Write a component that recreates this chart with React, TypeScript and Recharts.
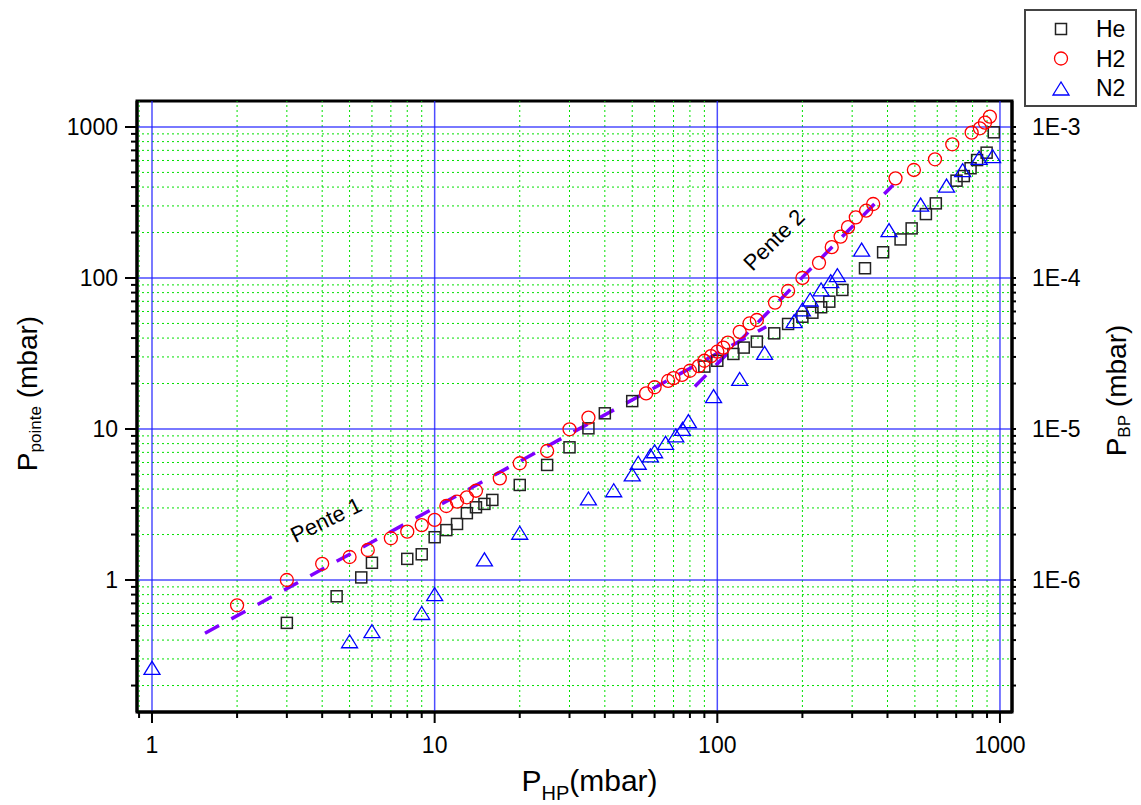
import React from "react";
import {
  ScatterChart,
  Scatter,
  XAxis,
  YAxis,
  ReferenceLine,
  ReferenceArea,
  ReferenceDot,
  Legend,
} from "recharts";

const FONT = "'Liberation Sans', Arial, sans-serif";

const seriesNames = ["He", "H2", "N2"];

// He (carrés noirs)
const heX = [3, 4.5, 5.5, 6, 8, 9, 10, 11, 12, 13, 14, 15, 16, 20, 25, 30, 35, 40, 50, 90, 100, 114, 124, 138, 159, 178, 200, 217, 233, 249, 277, 333, 386, 445, 487, 547, 593, 702, 745, 787, 830, 897, 951];
const heY = [0.52, 0.78, 1.04, 1.3, 1.38, 1.48, 1.92, 2.14, 2.35, 2.77, 3.03, 3.19, 3.39, 4.26, 5.78, 7.56, 10.1, 12.7, 15.3, 25.9, 28.3, 31.4, 34.6, 37.9, 43, 49.6, 55.4, 58.9, 64, 69.7, 83.3, 116, 148, 180, 213, 265, 312, 441, 473, 533, 604, 676, 922];

// H2 (cercles rouges)
const h2X = [2, 3, 4, 5, 5.8, 7, 8, 9, 10, 11, 12, 13, 14, 17, 20, 25, 30, 35, 56, 60, 67, 70, 75, 80, 86, 90, 95, 100, 105, 109, 120, 130, 138, 160, 178, 200, 229, 254, 273, 290, 309, 336, 356, 427, 496, 589, 678, 794, 849, 885, 921];
const h2Y = [0.68, 1.0, 1.28, 1.42, 1.58, 1.89, 2.09, 2.31, 2.5, 3.09, 3.3, 3.53, 3.9, 4.71, 5.93, 7.15, 9.95, 11.9, 17.2, 18.9, 20.8, 21.7, 22.8, 24.3, 26.1, 28.3, 30.4, 32.5, 34.6, 37.3, 44, 50, 52.7, 68.7, 82, 100, 126, 160, 188, 217, 252, 279, 309, 457, 519, 611, 768, 917, 980, 1068, 1170];

// N2 (triangles bleus)
const n2X = [1, 5, 6, 9, 10, 15, 20, 35, 43, 50, 52.5, 58, 60, 65.6, 71.3, 75.3, 79, 97, 120, 147, 187, 200, 213, 233, 252, 266, 324, 405, 524, 647, 738, 844, 942];
const n2Y = [0.26, 0.39, 0.455, 0.6, 0.8, 1.36, 2.04, 3.44, 3.9, 4.96, 5.93, 6.63, 7.07, 8.04, 8.99, 9.95, 11.2, 16.4, 21.3, 31.7, 51.4, 61.4, 71.5, 83.3, 94.6, 103.6, 153, 206, 304, 406, 514, 620, 636];

// droites de pente
const pente1X = [1.54, 149];
const pente1Y = [0.444, 47.6];
const pente2X = [83.3, 419];
const pente2Y = [19.1, 413];
const penteLabels = ["Pente 1", "Pente 2"];
const penteLabelX = [4.13, 158.6];
const penteLabelY = [2.5, 178.6];

const xMajor = [1, 10, 100, 1000];
const xMinor = [0.9, 2, 3, 4, 5, 6, 7, 8, 9, 20, 30, 40, 50, 60, 70, 80, 90, 200, 300, 400, 500, 600, 700, 800, 900];
const yMajor = [1, 10, 100, 1000];
const yMinor = [0.2, 0.3, 0.4, 0.5, 0.6, 0.7, 0.8, 0.9, 2, 3, 4, 5, 6, 7, 8, 9, 20, 30, 40, 50, 60, 70, 80, 90, 200, 300, 400, 500, 600, 700, 800, 900];
const rightLabels = ["1E-6", "1E-5", "1E-4", "1E-3"];

const xDomain: [number, number] = [0.885, 1103];
const yDomain: [number, number] = [0.1336, 1486];

const xTicks = [...xMinor, ...xMajor].sort((a, b) => a - b);
const yTicks = [...yMinor, ...yMajor].sort((a, b) => a - b);

const Square = (p: any) => (
  <rect x={p.cx - 5.5} y={p.cy - 5.5} width={11} height={11} fill="none" stroke="#222" strokeWidth={1.5} />
);
const Circle = (p: any) => (
  <circle cx={p.cx} cy={p.cy} r={6.5} fill="none" stroke="#ff0000" strokeWidth={1.3} />
);
const Triangle = (p: any) => (
  <polygon
    points={`${p.cx},${p.cy - 7} ${p.cx - 8},${p.cy + 6} ${p.cx + 8},${p.cy + 6}`}
    fill="none"
    stroke="#0000ff"
    strokeWidth={1.3}
  />
);

const BottomTick = (props: any) => {
  const { x, y, payload } = props;
  const major = xMajor.includes(payload.value);
  return (
    <g>
      <line x1={x} x2={x} y1={y} y2={y + (major ? 11 : 6)} stroke="#000" strokeWidth={2} />
      {major && (
        <text x={x} y={y + 41} textAnchor="middle" fontSize={23} fontFamily={FONT} fill="#000">
          {payload.value}
        </text>
      )}
    </g>
  );
};

const LeftTick = (props: any) => {
  const { x, y, payload } = props;
  const major = yMajor.includes(payload.value);
  return (
    <g>
      <line x1={x} x2={x - (major ? 12 : 6)} y1={y} y2={y} stroke="#000" strokeWidth={2} />
      {major && (
        <text x={x - 19} y={y + 8} textAnchor="end" fontSize={23} fontFamily={FONT} fill="#000">
          {payload.value}
        </text>
      )}
    </g>
  );
};

const RightTick = (props: any) => {
  const { x, y, payload } = props;
  const idx = yMajor.indexOf(payload.value);
  return (
    <g>
      <line x1={x} x2={x + 4} y1={y} y2={y} stroke="#000" strokeWidth={2} />
      {idx >= 0 && (
        <text x={x + 20} y={y + 8} textAnchor="start" fontSize={23} fontFamily={FONT} fill="#000">
          {rightLabels[idx]}
        </text>
      )}
    </g>
  );
};

const BottomTitle = (props: any) => {
  const vb = props.viewBox;
  return (
    <text x={vb.x + vb.width / 2 + 15} y={vb.y + 79} textAnchor="middle" fontFamily={FONT} fontSize={30} fill="#000">
      <tspan>P</tspan>
      <tspan fontSize={20} dy={9}>HP</tspan>
      <tspan dy={-9}>(mbar)</tspan>
    </text>
  );
};

const LeftTitle = (props: any) => {
  const vb = props.viewBox;
  const cx = vb.x + 27;
  const cy = vb.y + vb.height / 2 - 13;
  return (
    <text
      x={cx}
      y={cy}
      transform={`rotate(-90 ${cx} ${cy})`}
      textAnchor="middle"
      dominantBaseline="central"
      fontFamily={FONT}
      fontSize={28}
      fill="#000"
    >
      <tspan>P</tspan>
      <tspan fontSize={17} dy={8}>pointe</tspan>
      <tspan dy={-8}> (mbar)</tspan>
    </text>
  );
};

const RightTitle = (props: any) => {
  const vb = props.viewBox;
  const cx = vb.x + 104;
  const cy = vb.y + vb.height / 2 - 16;
  return (
    <text
      x={cx}
      y={cy}
      transform={`rotate(-90 ${cx} ${cy})`}
      textAnchor="middle"
      dominantBaseline="central"
      fontFamily={FONT}
      fontSize={28}
      fill="#000"
    >
      <tspan>P</tspan>
      <tspan fontSize={17} dy={8}>BP</tspan>
      <tspan dy={-8}> (mbar)</tspan>
    </text>
  );
};

const LegendBox = (props: any) => {
  const payload = [...(props.payload || [])].sort(
    (a: any, b: any) => seriesNames.indexOf(a.value) - seriesNames.indexOf(b.value)
  );
  return (
    <svg width={113} height={98} style={{ display: "block" }}>
      <rect x={1} y={1} width={111} height={96} fill="#fff" stroke="#444" strokeWidth={2} />
      {payload.map((entry: any, i: number) => {
        const cy = 20 + i * 29.5;
        const cx = 37;
        const marker =
          entry.value === "He" ? (
            <Square cx={cx} cy={cy} />
          ) : entry.value === "H2" ? (
            <Circle cx={cx} cy={cy} />
          ) : (
            <Triangle cx={cx} cy={cy + 1} />
          );
        return (
          <g key={entry.value}>
            {marker}
            <text x={72} y={cy + 8} fontFamily={FONT} fontSize={23} fill="#000">
              {entry.value}
            </text>
          </g>
        );
      })}
    </svg>
  );
};

const PenteText = (text: string, angle: number) => (p: any) => (
  <text
    x={p.cx}
    y={p.cy}
    transform={`rotate(${angle} ${p.cx} ${p.cy})`}
    textAnchor="middle"
    dominantBaseline="central"
    fontFamily={FONT}
    fontSize={22}
    fill="#000"
  >
    {text}
  </text>
);

export default function App() {
  const he = heX.map((x, i) => ({ x, y: heY[i] }));
  const h2 = h2X.map((x, i) => ({ x, y: h2Y[i] }));
  const n2 = n2X.map((x, i) => ({ x, y: n2Y[i] }));

  const dash = { stroke: "#7f00ff", strokeWidth: 3.5, strokeDasharray: "16 14" };

  return (
    <div style={{ position: "absolute", left: 0, top: 0, background: "#fff" }}>
      <ScatterChart width={1141} height={805} margin={{ top: 101, right: 0, bottom: 0, left: 0 }}>
        <XAxis
          type="number"
          dataKey="x"
          scale="log"
          domain={xDomain}
          allowDataOverflow
          ticks={xTicks}
          interval={0}
          height={93}
          tickSize={0}
          tickMargin={0}
          tickLine={false}
          axisLine={{ stroke: "#000", strokeWidth: 3 }}
          tick={<BottomTick />}
          label={<BottomTitle />}
        />
        <YAxis
          yAxisId="left"
          type="number"
          dataKey="y"
          scale="log"
          domain={yDomain}
          allowDataOverflow
          ticks={yTicks}
          interval={0}
          width={137}
          tickSize={0}
          tickMargin={0}
          tickLine={false}
          axisLine={{ stroke: "#000", strokeWidth: 3 }}
          tick={<LeftTick />}
          label={<LeftTitle />}
        />
        <YAxis
          yAxisId="right"
          orientation="right"
          type="number"
          scale="log"
          domain={yDomain}
          allowDataOverflow
          ticks={yTicks}
          interval={0}
          width={129}
          tickSize={0}
          tickMargin={0}
          tickLine={false}
          axisLine={{ stroke: "#000", strokeWidth: 3 }}
          tick={<RightTick />}
          label={<RightTitle />}
        />

        {xMinor.map((v) => (
          <ReferenceLine key={`xm${v}`} x={v} yAxisId="left" stroke="#00e000" strokeWidth={1} strokeDasharray="2 3" />
        ))}
        {yMinor.map((v) => (
          <ReferenceLine key={`ym${v}`} y={v} yAxisId="left" stroke="#00e000" strokeWidth={1} strokeDasharray="2 3" />
        ))}
        {xMajor.map((v) => (
          <ReferenceLine key={`xM${v}`} x={v} yAxisId="left" stroke="#2020ff" strokeOpacity={0.8} strokeWidth={1.5} />
        ))}
        {yMajor.map((v) => (
          <ReferenceLine key={`yM${v}`} y={v} yAxisId="left" stroke="#2020ff" strokeOpacity={0.8} strokeWidth={1.5} />
        ))}
        <ReferenceArea
          yAxisId="left"
          x1={xDomain[0]}
          x2={xDomain[1]}
          y1={yDomain[0]}
          y2={yDomain[1]}
          fill="none"
          stroke="#000"
          strokeWidth={3}
          ifOverflow="visible"
        />

        <Scatter name="He" data={he} yAxisId="left" fill="#222" shape={Square} isAnimationActive={false} />
        <Scatter name="H2" data={h2} yAxisId="left" fill="#ff0000" shape={Circle} isAnimationActive={false} />
        <Scatter name="N2" data={n2} yAxisId="left" fill="#0000ff" shape={Triangle} isAnimationActive={false} />

        <ReferenceLine
          yAxisId="left"
          segment={[
            { x: pente1X[0], y: pente1Y[0] },
            { x: pente1X[1], y: pente1Y[1] },
          ]}
          {...dash}
        />
        <ReferenceLine
          yAxisId="left"
          segment={[
            { x: pente2X[0], y: pente2Y[0] },
            { x: pente2X[1], y: pente2Y[1] },
          ]}
          {...dash}
        />
        <ReferenceDot yAxisId="left" x={penteLabelX[0]} y={penteLabelY[0]} r={0} shape={PenteText(penteLabels[0], -26)} />
        <ReferenceDot yAxisId="left" x={penteLabelX[1]} y={penteLabelY[1]} r={0} shape={PenteText(penteLabels[1], -45)} />

        <Legend
          layout="vertical"
          align="center"
          verticalAlign="middle"
          content={<LegendBox />}
          wrapperStyle={{ top: 9, left: 1024, width: 113, height: 98 }}
        />
      </ScatterChart>
    </div>
  );
}
